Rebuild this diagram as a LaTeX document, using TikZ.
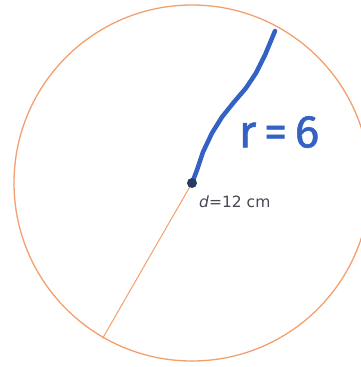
\documentclass[tikz,border=0pt]{standalone}
\usepackage{fontspec}
\usepackage{tikz}
\usetikzlibrary{positioning, calc}
\newfontfamily\labelfont{DejaVu Sans}
\newfontfamily\handfont[FakeBold=1.2]{Fira Sans}
\definecolor{rimorange}{RGB}{242,160,110}
\definecolor{penblue}{RGB}{52,98,196}
\definecolor{dotnavy}{RGB}{40,58,100}
\definecolor{textgray}{RGB}{70,72,82}

\begin{document}
\begin{tikzpicture}[x=1pt, y=-1pt,
  rim/.style={draw=rimorange, line width=1.3pt},
  pen/.style={draw=penblue, line width=4.5pt, line cap=round, line join=round},
  handlabel/.style={text=penblue, font=\handfont\fontsize{46}{46}\selectfont, inner sep=0pt},
  dimlabel/.style={text=textgray, font=\labelfont\fontsize{15.5}{16}\selectfont, inner sep=0pt}
]
\useasboundingbox (0,0) rectangle (361,367);

% Centre and diameter ends
\coordinate (O) at (192,183);
\coordinate (low) at (102.5,338.5);
\coordinate (top) at (275,31);

% Circle and diameter
\draw[rim] (O) circle[radius=178];
\draw[rim, line width=1pt] (O) -- (low);

% Radius drawn by hand
\draw[pen] (O) -- (197,170) -- (203,152) -- (212,133) -- (222,117) -- (234,102)
  -- (246,88) -- (256,73) -- (265,55) -- (top);
\fill[dotnavy] (O) circle[radius=5];

% Labels
\node[handlabel] (rlab) at (279,132) {r\,=\,6};
\node[dimlabel, anchor=west] (dlab) at (199,202) {\textit{d}=12 cm};

\end{tikzpicture}
\end{document}
